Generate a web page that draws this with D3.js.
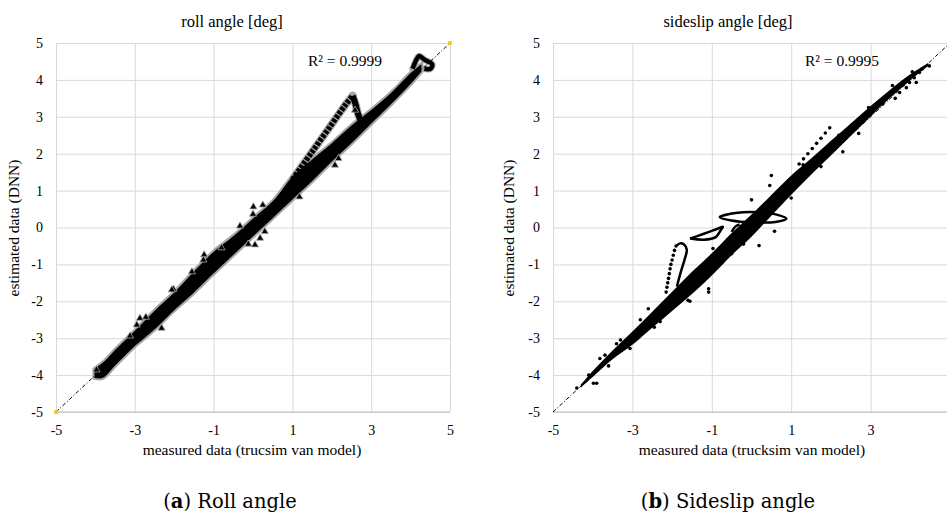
<!DOCTYPE html>
<html><head><meta charset="utf-8">
<script src="https://cdn.jsdelivr.net/npm/d3@7"></script>
<style>body{margin:0;background:#fff}svg{display:block}</style>
</head><body>
<svg id="c" width="947" height="516"></svg>
<script>
// ---------- data ----------
const xTicksRoll = [-5, -3, -1, 1, 3, 5];
const xTicksSlip = [-5, -3, -1, 1, 3];
const yTicks = [-5, -4, -3, -2, -1, 0, 1, 2, 3, 4, 5];
const fitLine = [[-5, -5], [5, 5]];
const cornerPts = [[-5, -5], [5, 5]];
const r2Roll = "R² = 0.9999";
const r2Slip = "R² = 0.9995";

// roll angle: dense band (measured x, lower / upper estimated value)
const rollBandX    = [-4.05, -3.8, -3.5, -3.0, -2.5, -2.0, -1.5, -1.0, -0.5, 0.0, 0.5, 1.0, 1.5, 2.0, 2.5, 3.0, 3.5, 4.0, 4.3];
const rollBandLow  = [-4.1, -4.1, -3.78, -3.25, -2.8, -2.28, -1.8, -1.28, -0.78, -0.28, 0.22, 0.72, 1.22, 1.75, 2.25, 2.78, 3.3, 3.85, 4.22];
const rollBandHigh = [-3.82, -3.62, -3.28, -2.76, -2.22, -1.72, -1.15, -0.62, -0.2, 0.28, 0.75, 1.42, 1.88, 2.32, 2.8, 3.22, 3.68, 4.22, 4.48];
const rollSpikeUp   = [[1.0, 1.3], [1.5, 2.05], [2.0, 2.8], [2.35, 3.33], [2.53, 3.57]];
const rollSpikeDown = [[2.53, 3.57], [2.6, 3.35], [2.66, 3.1], [2.76, 2.82]];
const rollHook = [[4.05, 4.3], [4.15, 4.55], [4.22, 4.65], [4.35, 4.55], [4.55, 4.42], [4.5, 4.3], [4.35, 4.3]];
const rollOutliers = [
  [0.01, 0.56], [0.25, 0.61], [0.0, 0.36], [-0.33, 0.04], [-0.12, -0.45], [0.05, -0.47],
  [0.18, -0.29], [0.3, -0.11], [1.18, 0.83], [-1.24, -0.74], [-2.02, -1.67], [2.08, 1.69],
  [2.17, 1.87], [2.59, 3.18], [-2.87, -2.46], [-2.72, -2.43], [-2.95, -2.64], [-2.06, -1.69],
  [-2.32, -2.73], [-3.12, -2.94], [-1.26, -0.88], [-3.97, -3.86], [-0.8, -0.55], [-1.55, -1.2]
];

// sideslip angle: dense band
const slipBandX    = [-4.3, -4.0, -3.5, -3.0, -2.5, -2.0, -1.5, -1.0, -0.5, 0.0, 0.5, 1.0, 1.5, 2.0, 2.5, 3.0, 3.5, 4.0, 4.45];
const slipBandLow  = [-4.34, -4.05, -3.57, -3.18, -2.72, -2.26, -1.8, -1.3, -0.75, -0.25, 0.32, 0.89, 1.43, 1.95, 2.48, 3.01, 3.52, 3.99, 4.38];
const slipBandHigh = [-4.26, -3.89, -3.33, -2.82, -2.28, -1.74, -1.2, -0.7, -0.15, 0.35, 0.88, 1.41, 1.87, 2.35, 2.82, 3.29, 3.74, 4.15, 4.46];
const slipEllipse = [[-0.8, 0.28], [-0.4, 0.39], [0.2, 0.41], [0.7, 0.33], [0.88, 0.24], [0.6, 0.15], [0.0, 0.14], [-0.5, 0.19]];
const slipFlag = [[-1.55, -0.3], [-1.2, -0.17], [-0.92, -0.06], [-0.72, 0.02], [-0.78, -0.08], [-0.9, -0.26], [-1.2, -0.33], [-1.55, -0.3]];
const slipHook = [[-0.5, -0.12], [-0.4, 0.03], [-0.3, 0.08]];
const slipLoopSolid = [[-1.88, -1.6], [-1.78, -1.2], [-1.68, -0.85], [-1.63, -0.6], [-1.7, -0.46], [-1.8, -0.43], [-1.88, -0.48]];
const slipLoopDots = [[-1.9, -0.5], [-1.94, -0.62], [-1.97, -0.75], [-2.0, -0.88], [-2.03, -1.0], [-2.05, -1.12],
  [-2.07, -1.25], [-2.09, -1.38], [-2.11, -1.5], [-2.13, -1.62], [-2.15, -1.75]];
const slipDotLine = [[1.2, 1.72], [1.31, 1.86], [1.42, 2.0], [1.53, 2.14], [1.64, 2.28], [1.75, 2.42], [1.86, 2.56], [1.97, 2.7]];
const slipOutliers = [
  [-3.82, -3.55], [-3.69, -3.46], [-3.98, -4.22], [-3.9, -4.22], [-3.06, -3.28], [-1.6, -1.97], [-1.55, -2.0],
  [-1.08, -1.66], [-1.08, -1.75], [-0.5, -0.71], [-0.97, -0.57], [0.19, -0.49], [0.58, -0.1], [0.0, 0.75],
  [0.46, 1.14], [0.5, 1.41], [3.9, 3.79], [3.98, 3.93], [4.1, 4.06], [4.15, 3.93], [4.23, 4.2], [4.48, 4.38],
  [3.73, 3.66], [-2.6, -2.2], [-2.3, -2.55], [-3.3, -3.05], [-4.1, -4.0], [-4.4, -4.35], [2.3, 2.05], [1.3, 1.7],
  [3.55, 3.85], [3.62, 3.5], [3.3, 3.35], [2.95, 3.25], [2.7, 2.55], [2.2, 2.5], [1.75, 1.65], [1.0, 0.8],
  [-0.2, -0.45], [-2.8, -2.5], [-3.4, -3.15], [-3.6, -3.75], [-2.45, -2.7], [4.3, 4.3], [4.05, 4.22]
];

// ---------- drawing ----------
const svg = d3.select("#c");
const serif = "'Liberation Serif','Times New Roman',serif";
const H = { top: 43, bottom: 412 };

function panel(o) {
  const x = d3.scaleLinear().domain([-5, 5]).range([o.left, o.right]);
  const y = d3.scaleLinear().domain([-5, 5]).range([H.bottom, H.top]);
  const g = svg.append("g");
  const fmt = d => String(d);

  // grid
  const gx = g.append("g").attr("transform", `translate(0,${H.bottom})`)
    .call(d3.axisBottom(x).tickValues(o.xTicks).tickSize(-(H.bottom - H.top)).tickFormat(fmt));
  gx.select(".domain").remove();
  gx.selectAll(".tick line").attr("stroke", "#d9d9d9");
  gx.selectAll(".tick text").attr("dy", "0").attr("y", 23).attr("font-family", serif).attr("font-size", 14).attr("fill", "#000");
  const gy = g.append("g").attr("transform", `translate(${o.left},0)`)
    .call(d3.axisLeft(y).tickValues(yTicks).tickSize(-(o.right - o.left)).tickFormat(fmt));
  gy.select(".domain").remove();
  gy.selectAll(".tick line").attr("stroke", "#d9d9d9");
  gy.selectAll(".tick text").attr("x", -13).attr("font-family", serif).attr("font-size", 14).attr("fill", "#000");
  g.append("line").attr("x1", o.left).attr("x2", o.right).attr("y1", H.bottom).attr("y2", H.bottom).attr("stroke", "#bfbfbf");

  // texts
  g.append("text").attr("x", o.titleX).attr("y", 27).attr("text-anchor", "middle")
    .attr("font-family", serif).attr("font-size", 16.5).text(o.title);
  g.append("text").attr("x", o.r2X).attr("y", 66).attr("font-family", serif).attr("font-size", 15.5).text(o.r2);
  g.append("text").attr("x", o.xLabX).attr("y", 455).attr("text-anchor", "middle")
    .attr("font-family", serif).attr("font-size", 15.5).text(o.xLabel);
  g.append("text").attr("transform", `translate(${o.yLabX},228) rotate(-90)`).attr("text-anchor", "middle")
    .attr("font-family", serif).attr("font-size", 15.5).text("estimated data (DNN)");
  const cap = g.append("text").attr("x", o.capX).attr("y", 508).attr("text-anchor", "middle")
    .attr("font-family", "'DejaVu Serif',serif").attr("font-size", 19.5);
  cap.append("tspan").text("(");
  cap.append("tspan").attr("font-weight", "bold").text(o.capLetter);
  cap.append("tspan").text(") " + o.capText);

  return { g, x, y };
}

const line = (x, y) => d3.line().x(d => x(d[0])).y(d => y(d[1]));
function band(g, x, y, xs, lo, hi) {
  return g.append("path").datum(xs.map((v, i) => [v, lo[i], hi[i]]))
    .attr("d", d3.area().curve(d3.curveCatmullRom).x(d => x(d[0])).y0(d => y(d[1])).y1(d => y(d[2])));
}
function fit(g, x, y) {
  g.append("path").datum(fitLine).attr("d", line(x, y)).attr("fill", "none")
    .attr("stroke", "#000").attr("stroke-width", 1).attr("stroke-dasharray", "4,2,1,2");
}

// ---- roll angle panel ----
{
  const { g, x, y } = panel({ left: 56, right: 450, xTicks: xTicksRoll, title: "roll angle [deg]", titleX: 232,
    r2: r2Roll, r2X: 308, xLabel: "measured data (trucsim van model)", xLabX: 252, yLabX: 19,
    capX: 230, capLetter: "a", capText: "Roll angle" });
  const L = line(x, y).curve(d3.curveCatmullRom);
  // halo
  [rollSpikeUp, rollSpikeDown].forEach(s => g.append("path").datum(s).attr("d", L).attr("fill", "none")
    .attr("stroke", "#a6a6a6").attr("stroke-width", 8).attr("stroke-linecap", "round"));
  g.append("path").datum(rollHook).attr("d", L).attr("fill", "none").attr("stroke", "#a6a6a6")
    .attr("stroke-width", 6.5).attr("stroke-linecap", "round");
  band(g, x, y, rollBandX, rollBandLow, rollBandHigh).attr("fill", "#000").attr("stroke", "#a6a6a6").attr("stroke-width", 2);
  g.append("path").datum(rollSpikeUp).attr("d", L).attr("fill", "none").attr("stroke", "#000")
    .attr("stroke-width", 5.5).attr("stroke-dasharray", "3.5,1.2");
  g.append("path").datum(rollSpikeDown).attr("d", L).attr("fill", "none").attr("stroke", "#000").attr("stroke-width", 6);
  g.append("path").datum(rollHook).attr("d", L).attr("fill", "none").attr("stroke", "#000").attr("stroke-width", 4.5);
  g.selectAll(".tri").data(rollOutliers).join("path")
    .attr("transform", d => `translate(${x(d[0])},${y(d[1])})`)
    .attr("d", d3.symbol(d3.symbolTriangle, 22)).attr("fill", "#000").attr("stroke", "#a6a6a6").attr("stroke-width", 0.8);
  fit(g, x, y);
  g.selectAll(".corner").data(cornerPts).join("rect")
    .attr("x", d => x(d[0]) - 1.8).attr("y", d => y(d[1]) - 1.8).attr("width", 3.6).attr("height", 3.6).attr("fill", "#ffc000");
}

// ---- sideslip angle panel ----
{
  const { g, x, y } = panel({ left: 553, right: 950, xTicks: xTicksSlip, title: "sideslip angle [deg]", titleX: 728,
    r2: r2Slip, r2X: 805, xLabel: "measured data (trucksim van model)", xLabX: 752, yLabX: 514,
    capX: 728, capLetter: "b", capText: "Sideslip angle" });
  const L = line(x, y).curve(d3.curveCatmullRom);
  fit(g, x, y);
  band(g, x, y, slipBandX, slipBandLow, slipBandHigh).attr("fill", "#000");
  g.append("path").datum(slipEllipse).attr("d", line(x, y).curve(d3.curveCatmullRomClosed)).attr("fill", "none")
    .attr("stroke", "#000").attr("stroke-width", 2.5);
  [slipFlag, slipHook, slipLoopSolid].forEach(s => g.append("path").datum(s).attr("d", L).attr("fill", "none")
    .attr("stroke", "#000").attr("stroke-width", 2.5).attr("stroke-linejoin", "round"));
  g.selectAll(".dot").data([...slipLoopDots, ...slipDotLine, ...slipOutliers]).join("circle")
    .attr("cx", d => x(d[0])).attr("cy", d => y(d[1])).attr("r", 1.8).attr("fill", "#000");
}
</script>
</body></html>
